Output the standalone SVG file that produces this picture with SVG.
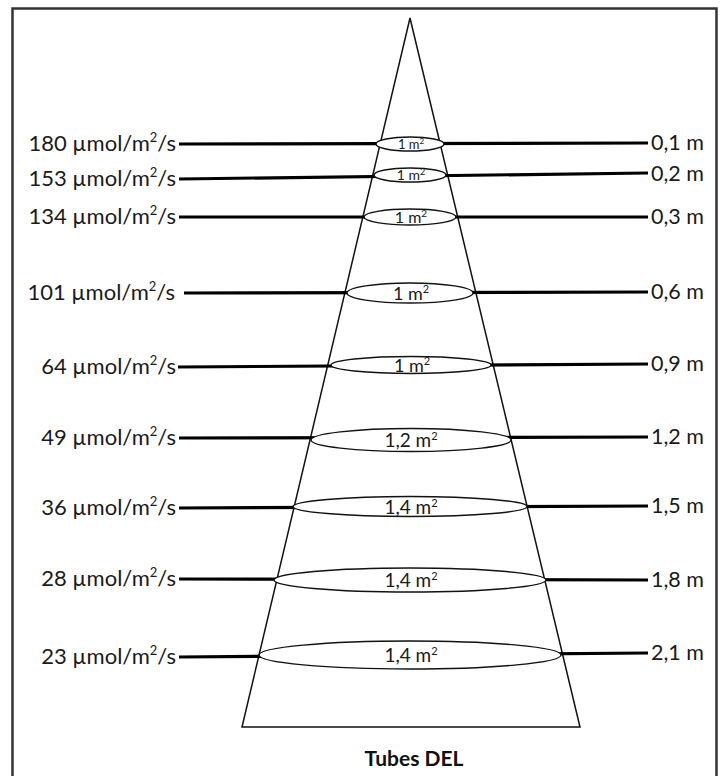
<svg xmlns="http://www.w3.org/2000/svg" width="726" height="776" viewBox="0 0 726 776">
<style>
.lbl{font-family:Lato,"Open Sans","Liberation Sans",sans-serif;font-size:21.5px;fill:#1a1a1a}
.l{text-anchor:end;font-size:22px}
.in{font-family:Lato,"Open Sans","Liberation Sans",sans-serif;fill:#1a1a1a;text-anchor:middle}
.bar{stroke:#000;stroke-width:3.2;fill:none}
.ell{stroke:#111;stroke-width:1.4;fill:#fff}
.sup{font-size:13px}
</style>
<rect x="0" y="0" width="726" height="776" fill="#fff"/>
<rect x="12.5" y="8.5" width="704" height="769" fill="none" stroke="#333" stroke-width="2.5"/>
<g id="cone">
<polygon points="410,18 580,727 242,727" fill="none" stroke="#111" stroke-width="1.5"/>
</g>
<g id="connectors">
<line class="bar" x1="179" y1="144" x2="648" y2="143"/>
<line class="bar" x1="179" y1="179" x2="648" y2="173"/>
<line class="bar" x1="179" y1="217" x2="648" y2="217"/>
<line class="bar" x1="184" y1="293" x2="648" y2="292"/>
<line class="bar" x1="178" y1="367" x2="648" y2="364"/>
<line class="bar" x1="179" y1="438" x2="648" y2="437"/>
<line class="bar" x1="179" y1="508" x2="648" y2="506"/>
<line class="bar" x1="179" y1="579" x2="648" y2="580"/>
<line class="bar" x1="179" y1="657" x2="648" y2="653"/>
</g>
<g id="disc1"><ellipse class="ell" cx="410" cy="144" rx="34" ry="7"/><text class="in" x="411" y="149" font-size="13">1 m<tspan font-size="8" dy="-5">2</tspan></text></g>
<g id="disc2"><ellipse class="ell" cx="410" cy="175" rx="36" ry="7"/><text class="in" x="411" y="180" font-size="14">1 m<tspan font-size="9" dy="-5">2</tspan></text></g>
<g id="disc3"><ellipse class="ell" cx="410" cy="217" rx="46" ry="8"/><text class="in" x="411" y="223" font-size="16">1 m<tspan font-size="10" dy="-6">2</tspan></text></g>
<g id="disc4"><ellipse class="ell" cx="410" cy="293" rx="63" ry="10"/><text class="in" x="411" y="300" font-size="18">1 m<tspan font-size="11" dy="-7">2</tspan></text></g>
<g id="disc5"><ellipse class="ell" cx="411" cy="365" rx="80" ry="8.5"/><text class="in" x="412" y="372" font-size="18">1 m<tspan font-size="11" dy="-7">2</tspan></text></g>
<g id="disc6"><ellipse class="ell" cx="411" cy="440" rx="100" ry="11.5"/><text class="in" x="411" y="447" font-size="19">1,2 m<tspan font-size="11" dy="-7">2</tspan></text></g>
<g id="disc7"><ellipse class="ell" cx="410" cy="506.5" rx="117" ry="10"/><text class="in" x="411" y="514" font-size="19">1,4 m<tspan font-size="11" dy="-7">2</tspan></text></g>
<g id="disc8"><ellipse class="ell" cx="410" cy="580" rx="136" ry="12"/><text class="in" x="411" y="587" font-size="19">1,4 m<tspan font-size="11" dy="-7">2</tspan></text></g>
<g id="disc9"><ellipse class="ell" cx="410" cy="655" rx="151" ry="14"/><text class="in" x="411" y="662" font-size="19">1,4 m<tspan font-size="11" dy="-7">2</tspan></text></g>
<g id="left-labels">
<text class="lbl l" x="176" y="151">180 µmol/m<tspan class="sup" dy="-9">2</tspan><tspan dy="9">/s</tspan></text>
<text class="lbl l" x="176" y="186">153 µmol/m<tspan class="sup" dy="-9">2</tspan><tspan dy="9">/s</tspan></text>
<text class="lbl l" x="176" y="224">134 µmol/m<tspan class="sup" dy="-9">2</tspan><tspan dy="9">/s</tspan></text>
<text class="lbl l" x="175" y="300">101 µmol/m<tspan class="sup" dy="-9">2</tspan><tspan dy="9">/s</tspan></text>
<text class="lbl l" x="176" y="374">64 µmol/m<tspan class="sup" dy="-9">2</tspan><tspan dy="9">/s</tspan></text>
<text class="lbl l" x="176" y="445">49 µmol/m<tspan class="sup" dy="-9">2</tspan><tspan dy="9">/s</tspan></text>
<text class="lbl l" x="176" y="515">36 µmol/m<tspan class="sup" dy="-9">2</tspan><tspan dy="9">/s</tspan></text>
<text class="lbl l" x="176" y="586">28 µmol/m<tspan class="sup" dy="-9">2</tspan><tspan dy="9">/s</tspan></text>
<text class="lbl l" x="176" y="664">23 µmol/m<tspan class="sup" dy="-9">2</tspan><tspan dy="9">/s</tspan></text>
</g>
<g id="right-labels">
<text class="lbl" x="651" y="150">0,1 m</text>
<text class="lbl" x="651" y="181">0,2 m</text>
<text class="lbl" x="651" y="224">0,3 m</text>
<text class="lbl" x="651" y="299">0,6 m</text>
<text class="lbl" x="651" y="371">0,9 m</text>
<text class="lbl" x="651" y="444">1,2 m</text>
<text class="lbl" x="651" y="513">1,5 m</text>
<text class="lbl" x="651" y="587">1,8 m</text>
<text class="lbl" x="651" y="660">2,1 m</text>
</g>
<g id="title"><text x="414" y="766" text-anchor="middle" font-family="Lato,'Open Sans','Liberation Sans',sans-serif" font-size="21" font-weight="bold" fill="#111">Tubes DEL</text></g>
</svg>
